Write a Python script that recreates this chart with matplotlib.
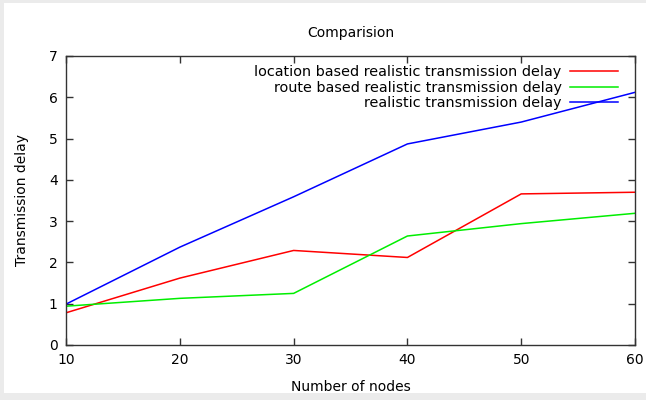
import matplotlib
matplotlib.use("Agg")
import matplotlib.pyplot as plt
from matplotlib.patches import Rectangle

# data
nodes = [10, 20, 30, 40, 50, 60]
location_delay = [0.78, 1.62, 2.29, 2.12, 3.66, 3.70]
route_delay = [0.94, 1.13, 1.25, 2.64, 2.94, 3.19]
realistic_delay = [0.99, 2.37, 3.59, 4.87, 5.40, 6.12]

labels = ["location based realistic transmission delay",
          "route based realistic transmission delay",
          "realistic transmission delay"]

plt.rcParams['font.family'] = ['DejaVu Sans']
plt.rcParams['font.size'] = 10

fig = plt.figure(figsize=(6.46, 4.0), dpi=100)
ax = fig.add_axes([0.1022, 0.1375, 0.8808, 0.7225])

# light gray frame (left, top, bottom) like the screenshot
for x, y, w, h in [(0, 0, 4 / 646, 1), (0, 1 - 3 / 400, 1, 3 / 400), (0, 0, 1, 7 / 400)]:
    fig.patches.append(Rectangle((x, y), w, h, transform=fig.transFigure,
                                 facecolor='#ebebeb', edgecolor='none'))

ax.plot(nodes, location_delay, color='#ff0000', lw=1.1, label=labels[0])
ax.plot(nodes, route_delay, color='#00ee00', lw=1.1, label=labels[1])
ax.plot(nodes, realistic_delay, color='#0000ff', lw=1.1, label=labels[2])

ax.set_xlim(10, 60)
ax.set_ylim(0, 7)
ax.set_xticks(nodes)
ax.set_yticks(range(0, 8))
ax.tick_params(direction='in', top=True, right=True, length=5,
               width=1, color='#333333', labelsize=10, pad=6)
for s in ax.spines.values():
    s.set_color('#333333')
    s.set_linewidth(1)

ax.set_title("Comparision", fontsize=10, pad=14)
ax.set_xlabel("Number of nodes", fontsize=10, labelpad=9)
ax.set_ylabel("Transmission delay", fontsize=10, labelpad=14)

ax.legend(loc='upper right', frameon=False, markerfirst=False,
          handlelength=3.3, labelspacing=0.1, borderaxespad=0.3,
          handletextpad=0.6, fontsize=10.4, bbox_to_anchor=(0.988, 1.003))

fig.savefig("out.png", dpi=100)
